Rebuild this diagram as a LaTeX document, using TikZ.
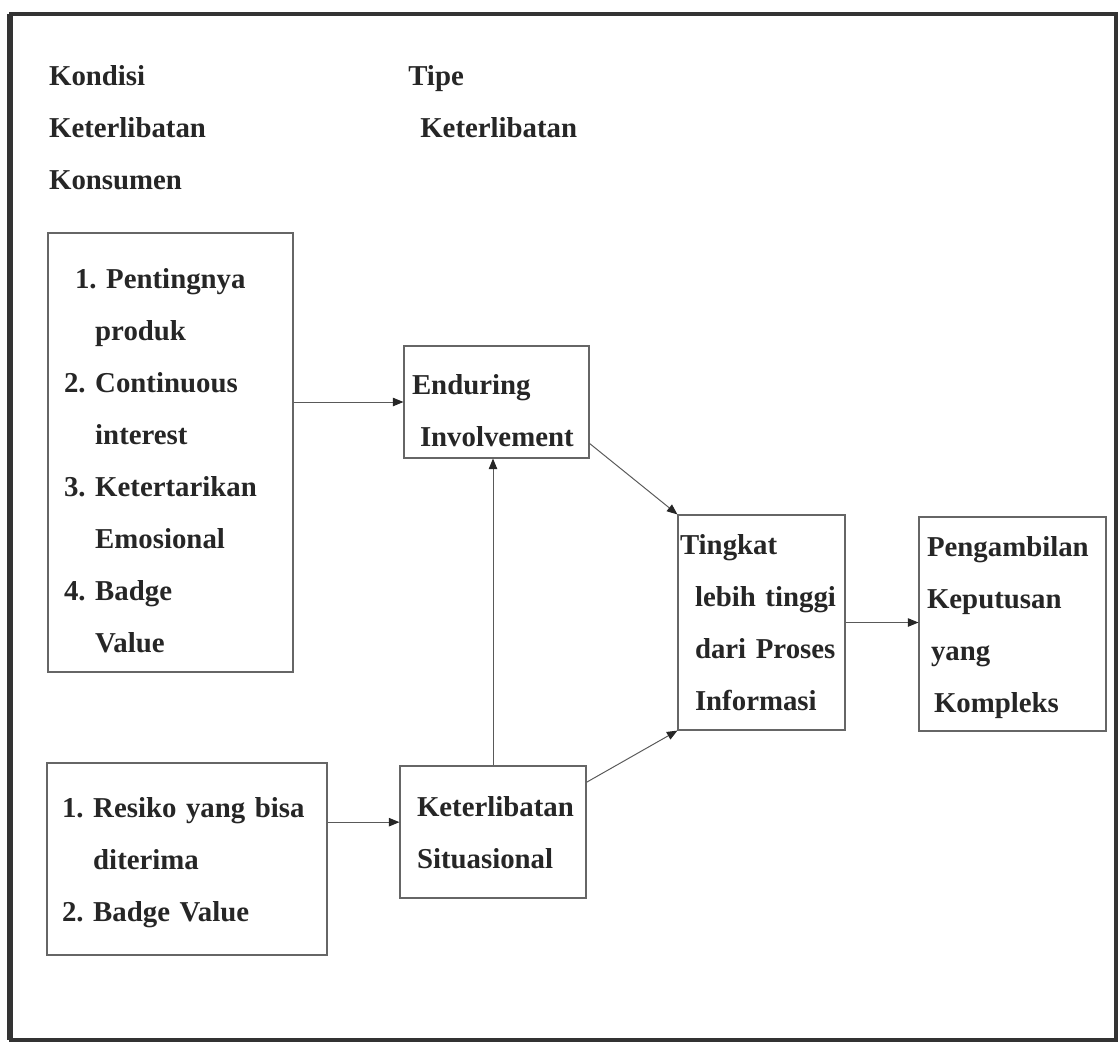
\documentclass[tikz,border=0pt]{standalone}
\usepackage{fontspec}
\setmainfont{Liberation Serif}
\usetikzlibrary{arrows.meta}

\begin{document}
\begin{tikzpicture}[
  >={Triangle[length=7.5pt,width=6pt,color=black!85]},
  every node/.style = {
    font=\fontsize{20.5}{37}\selectfont\bfseries\frenchspacing,
    text=black!85,
    inner ysep=0pt
  },
  block/.style = {
    draw=black!60,
    line width=0.8pt,
    shape=rectangle,
    align=left,
    execute at begin node=\strut
  },
  heading/.style = {
    align=left,
    inner sep=0pt,
    anchor=north west,
    execute at begin node=\strut
  },
  link/.style = {
    draw=black!65,
    line width=0.7pt
  },
]
  \useasboundingbox (0,0) rectangle (27.975,-26.175);
  % outer frame
  \draw[black!80, line width=0.1cm] (0.275,-0.35) rectangle (27.9,-26.0);
  \draw[black!80, line width=0.1cm] (0.225,-0.35) -- (0.225,-26.0);

  \node (kondisi)[heading] at (1.22,-1.63) {Kondisi\\Keterlibatan\\Konsumen};
  \node (tipe)[heading] at (10.2,-1.63) {Tipe\\\hspace*{0.3cm}Keterlibatan};

  \node (pentingnya)[
    block,
    minimum width=6.125cm,
    minimum height=10.975cm,
    text width=5.325cm,
    inner xsep=0.4cm
  ] at (4.2625,-11.3125) {\hspace*{0.275cm}1.~Pentingnya\\
    \phantom{2. }produk\\
    2.~Continuous\\
    \phantom{2. }interest\\
    3.~Ketertarikan\\
    \phantom{2. }Emosional\\
    4.~Badge\\
    \phantom{2. }Value};
  \node (enduring)[
    block,
    minimum width=4.625cm,
    minimum height=2.8cm,
    text width=4.225cm,
    inner xsep=0.2cm
  ] at (12.4125,-10.05) {Enduring\\\hspace*{0.2cm}Involvement};
  \node (tingkat)[
    block,
    minimum width=4.175cm,
    minimum height=5.375cm,
    text width=4.075cm,
    inner xsep=0.05cm
  ] at (19.0375,-15.5625) {Tingkat\\
    \hspace*{0.375cm}lebih~tinggi\\
    \hspace*{0.375cm}dari~Proses\\
    \hspace*{0.375cm}Informasi\strut};
  \node (keputusan)[
    block,
    minimum width=4.675cm,
    minimum height=5.35cm,
    text width=4.275cm,
    inner xsep=0.2cm
  ] at (25.3125,-15.6) {Pengambilan\\
    Keputusan\\
    \hspace*{0.1cm}yang\\
    \hspace*{0.175cm}Kompleks\strut};
  \node (resiko)[
    block,
    minimum width=7.0cm,
    minimum height=4.8cm,
    text width=6.25cm,
    inner xsep=0.375cm
  ] at (4.675,-21.475) {1.~Resiko~yang~bisa\\
    \phantom{1. }diterima\\
    2.~Badge~Value\strut};
  \node (situasional)[
    block,
    minimum width=4.65cm,
    minimum height=3.3cm,
    text width=3.8cm,
    inner xsep=0.425cm
  ] at (12.325,-20.8) {Keterlibatan\\Situasional\strut};

  \draw[->, link] (pentingnya.east |- enduring.west) -- (enduring.west);
  \draw[->, link] (situasional.north) -- (situasional.north |- enduring.south);
  \draw[->, link] (enduring.-24) -- (tingkat.north west);
  \draw[->, link] (situasional.28) -- (tingkat.south west);
  \draw[->, link] (tingkat.east) -- (tingkat.east -| keputusan.west);
  \draw[->, link] (resiko.east |- situasional.174) -- (situasional.174);
\end{tikzpicture}
\end{document}
